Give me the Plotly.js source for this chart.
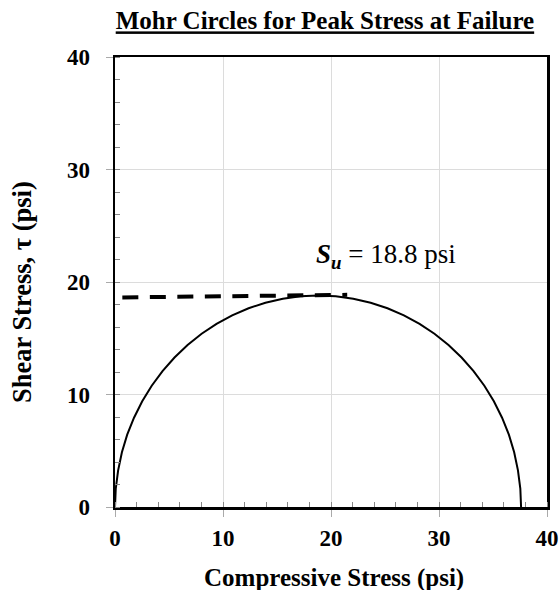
<!DOCTYPE html>
<html>
<head>
<meta charset="utf-8">
<script src="https://cdn.plot.ly/plotly-3.0.1.min.js"></script>
<style>
html,body{margin:0;padding:0;background:#fff;}
#chart{width:560px;height:590px;}
</style>
</head>
<body>
<div id="chart"></div>
<script>
// Mohr circle points (compressive stress, shear stress), psi
var circleSigma = [0, 0.07, 0.29, 0.64, 1.13, 1.76, 2.52, 3.40, 4.40, 5.51, 6.72, 8.02, 9.40, 10.85, 12.37, 13.93, 15.54, 17.16, 18.80,
                   20.44, 22.06, 23.67, 25.23, 26.75, 28.20, 29.58, 30.88, 32.09, 33.20, 34.20, 35.08, 35.84, 36.47, 36.96, 37.31, 37.53, 37.60];
var circleTau   = [0, 1.64, 3.26, 4.87, 6.43, 7.94, 9.40, 10.78, 12.08, 13.29, 14.40, 15.40, 16.28, 17.04, 17.67, 18.16, 18.51, 18.73, 18.80,
                   18.73, 18.51, 18.16, 17.67, 17.04, 16.28, 15.40, 14.40, 13.29, 12.08, 10.78, 9.40, 7.94, 6.43, 4.87, 3.26, 1.64, 0];
// Peak strength line
var suSigma = [0.68, 21.5];
var suTau = [18.63, 18.86];
var suLabel = "<b><i>S<sub>u</sub></i></b> = 18.8 psi";
var suLabelPos = [25.05, 22.3];
var tickVals = [0, 10, 20, 30, 40];
var tickText = ["0", "10", "20", "30", "40"];
var xTitle = "<b>Compressive Stress (psi)</b>";
var yTitle = "<b>Shear Stress, τ (psi)</b>";
var chartTitle = "<b><u>Mohr Circles for Peak Stress at Failure</u></b>";

var serif = "Liberation Serif, Times New Roman, serif";

var traces = [
  {x: circleSigma, y: circleTau, type: 'scatter', mode: 'lines',
   line: {color: '#000', width: 2}, hoverinfo: 'skip', showlegend: false},
  {x: suSigma, y: suTau, type: 'scatter', mode: 'lines',
   line: {color: '#000', width: 4, dash: '16px,11.5px'}, hoverinfo: 'skip', showlegend: false}
];

var axisCommon = {
  range: [0, 40],
  tickvals: tickVals,
  ticktext: tickText,
  ticks: 'outside',
  ticklen: 7,
  tickcolor: '#aaa',
  tickwidth: 1,
  showgrid: true,
  gridcolor: '#dcdcdc',
  gridwidth: 1,
  zeroline: false,
  showline: true,
  linecolor: '#000',
  linewidth: 2.5,
  mirror: true,
  tickfont: {family: serif, size: 23, color: '#000', weight: 'bold'},
  minor: {dtick: 2, tick0: 0, ticks: 'inside', ticklen: 5, tickcolor: '#888', tickwidth: 1, showgrid: false}
};

var layout = {
  width: 560, height: 590,
  margin: {l: 115, r: 13, t: 57, b: 83},
  paper_bgcolor: '#fff',
  plot_bgcolor: '#fff',
  showlegend: false,
  title: {
    text: chartTitle,
    font: {family: serif, size: 25, color: '#000'},
    x: 0.486, xref: 'paper', xanchor: 'center',
    y: 0.965, yref: 'container', yanchor: 'middle'
  },
  xaxis: Object.assign({}, axisCommon, {
    ticklabelstandoff: 2
  }),
  yaxis: Object.assign({}, axisCommon, {
    ticklabelstandoff: 11
  }),
  annotations: [{
    x: suLabelPos[0], y: suLabelPos[1], xref: 'x', yref: 'y',
    text: suLabel, showarrow: false,
    font: {family: serif, size: 27, color: '#000'},
    xanchor: 'center', yanchor: 'middle'
  }, {
    x: 0.506, y: -0.158, xref: 'paper', yref: 'paper',
    text: xTitle, showarrow: false,
    font: {family: serif, size: 25, color: '#000'},
    xanchor: 'center', yanchor: 'middle'
  }, {
    x: -0.215, y: 0.478, xref: 'paper', yref: 'paper',
    text: yTitle, showarrow: false, textangle: -90,
    font: {family: serif, size: 26.5, color: '#000'},
    xanchor: 'center', yanchor: 'middle'
  }]
};

Plotly.newPlot('chart', traces, layout, {displayModeBar: false, staticPlot: true});
</script>
</body>
</html>
